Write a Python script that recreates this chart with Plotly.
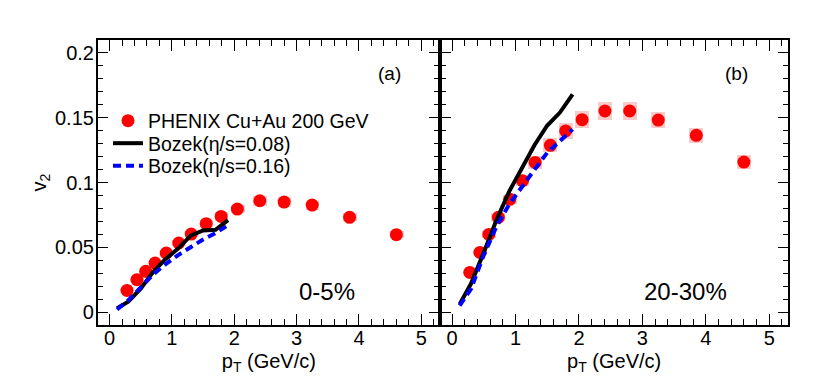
import plotly.graph_objects as go
from plotly.subplots import make_subplots

# PHENIX Cu+Au 200 GeV, v2 vs pT
PT = [0.28, 0.44, 0.58, 0.73, 0.91, 1.11, 1.31, 1.55, 1.79, 2.05, 2.41, 2.80, 3.25, 3.85, 4.60]
V2_CENT_0_5 = [0.0167, 0.025, 0.0314, 0.0378, 0.0455, 0.0533, 0.0602, 0.0682, 0.0738,
               0.0795, 0.0859, 0.0849, 0.0826, 0.0731, 0.0597]
SYS_CENT_0_5 = [0.0008, 0.0011, 0.0014, 0.0017, 0.002, 0.0023, 0.0026, 0.0029, 0.0032,
                0.0034, 0.0037, 0.0036, 0.0035, 0.0032, 0.0027]
V2_CENT_20_30 = [0.0306, 0.046, 0.0599, 0.0731, 0.087, 0.1014, 0.1155, 0.1287, 0.1398,
                 0.1485, 0.1552, 0.1552, 0.1482, 0.1364, 0.1158]
SYS_CENT_20_30 = [0.0014, 0.002, 0.0026, 0.0031, 0.0037, 0.0043, 0.005, 0.0055, 0.006,
                  0.0064, 0.0067, 0.0067, 0.0064, 0.0059, 0.0052]

# Bozek hydro curves
PT_MODEL = [0.12, 0.3, 0.5, 0.7, 0.9, 1.1, 1.3, 1.5, 1.7, 1.9]
BOZEK_008_CENT_0_5 = [0.003, 0.008, 0.018, 0.031, 0.041, 0.049, 0.059, 0.063, 0.0635, 0.071]
BOZEK_016_CENT_0_5 = [0.002, 0.009, 0.019, 0.029, 0.037, 0.044, 0.050, 0.056, 0.061, 0.067]
BOZEK_008_CENT_20_30 = [0.006, 0.022, 0.046, 0.071, 0.093, 0.111, 0.129, 0.144, 0.154, 0.168]
BOZEK_016_CENT_20_30 = [0.005, 0.018, 0.044, 0.066, 0.083, 0.097, 0.110, 0.123, 0.132, 0.141]

LEGEND_NAMES = ['PHENIX Cu+Au 200 GeV', 'Bozek(\u03b7/s=0.08)', 'Bozek(\u03b7/s=0.16)']
PANEL_TAGS = ['(a)', '(b)']
CENTRALITY = ['0-5%', '20-30%']

FONT = 'Liberation Sans, Arial, Helvetica, sans-serif'
RED = '#ff0000'
PINK = '#f9cccc'

# page body has an 8px margin, so the figure is laid out 8px smaller
OFF = 8
W, H = 830 - OFF, 388 - OFF
left, mid, right = 97.7 - OFF, 440 - OFF, 788.3 - OFF
top, bottom = 40 - OFF, 325 - OFF

fig = make_subplots(rows=1, cols=2, shared_yaxes=True, horizontal_spacing=0)

panels = [
    (V2_CENT_0_5, SYS_CENT_0_5, BOZEK_008_CENT_0_5, BOZEK_016_CENT_0_5),
    (V2_CENT_20_30, SYS_CENT_20_30, BOZEK_008_CENT_20_30, BOZEK_016_CENT_20_30),
]

for col, (v2, sys, b008, b016) in enumerate(panels, start=1):
    first = col == 1
    fig.add_trace(go.Bar(
        x=PT,
        y=[2 * s for s in sys],
        base=[v - s for v, s in zip(v2, sys)],
        width=0.22,
        marker=dict(color=PINK, line=dict(width=0)),
        showlegend=False,
        hoverinfo='skip',
    ), row=1, col=col)
    fig.add_trace(go.Scatter(
        x=PT, y=v2, mode='markers',
        marker=dict(symbol='circle', size=13, color=RED),
        name=LEGEND_NAMES[0], showlegend=first, legend='legend',
    ), row=1, col=col)
    fig.add_trace(go.Scatter(
        x=PT_MODEL, y=b008, mode='lines',
        line=dict(color='black', width=4),
        name=LEGEND_NAMES[1], showlegend=first, legend='legend2',
    ), row=1, col=col)
    fig.add_trace(go.Scatter(
        x=PT_MODEL, y=b016, mode='lines',
        line=dict(color='#0000ff', width=4, dash='8px,5px'),
        name=LEGEND_NAMES[2], showlegend=first, legend='legend3',
    ), row=1, col=col)

axis_common = dict(
    showline=True, linecolor='black', linewidth=1.5, mirror='allticks',
    ticks='inside', ticklen=11, tickwidth=1.2, tickcolor='black',
    showgrid=False, zeroline=False, automargin=False,
    tickfont=dict(family=FONT, size=20, color='black'),
)

for col in (1, 2):
    xkey = 'xaxis' if col == 1 else 'xaxis2'
    dom = [left / W, mid / W] if col == 1 else [mid / W, right / W]
    fig.layout[xkey].update(
        domain=dom, range=[-0.19, 5.3], dtick=1, tick0=0, ticklabelstandoff=-6,
        minor=dict(dtick=0.2, ticks='inside', ticklen=6, tickcolor='black', tickwidth=1.2),
        title=dict(text='p<sub>T</sub> (GeV/c)', font=dict(family=FONT, size=20, color='black'),
                   standoff=6),
        **axis_common,
    )
    ykey = 'yaxis' if col == 1 else 'yaxis2'
    fig.layout[ykey].update(
        domain=[1 - bottom / H, 1 - top / H], range=[-0.01, 0.21], dtick=0.05, tick0=0,
        minor=dict(dtick=0.01, ticks='inside', ticklen=6, tickcolor='black', tickwidth=1.2),
        showticklabels=(col == 1), ticklabelstandoff=-2,
        **axis_common,
    )

fig.layout.yaxis.title = dict(text='v<sub>2</sub>', font=dict(family=FONT, size=20, color='black'),
                              standoff=3)

for col in (1, 2):
    xref = 'x' if col == 1 else 'x2'
    yref = 'y' if col == 1 else 'y2'
    fig.add_annotation(x=4.49, y=0.184, xref=xref, yref=yref, text=PANEL_TAGS[col - 1],
                       showarrow=False, font=dict(family=FONT, size=19, color='black'))
    fig.add_annotation(x=3.48 if col == 1 else 3.68, y=0.0157, xref=xref, yref=yref,
                       text=CENTRALITY[col - 1], showarrow=False,
                       font=dict(family=FONT, size=24, color='black'))

legend_common = dict(
    x=(108 - OFF) / W, xanchor='left', yanchor='middle',
    bgcolor='rgba(0,0,0,0)', borderwidth=0,
    font=dict(family=FONT, size=19.5, color='black'),
    itemwidth=30,
)

fig.update_layout(
    width=W, height=H,
    margin=dict(l=0, r=0, t=0, b=0),
    paper_bgcolor='white', plot_bgcolor='white',
    barmode='overlay', bargap=0,
    font=dict(family=FONT, color='black'),
    legend=dict(y=1 - (121 - OFF) / H, **legend_common),
    legend2=dict(y=1 - (143.5 - OFF) / H, **legend_common),
    legend3=dict(y=1 - (166 - OFF) / H, **legend_common),
)

fig.write_html('out.html')
